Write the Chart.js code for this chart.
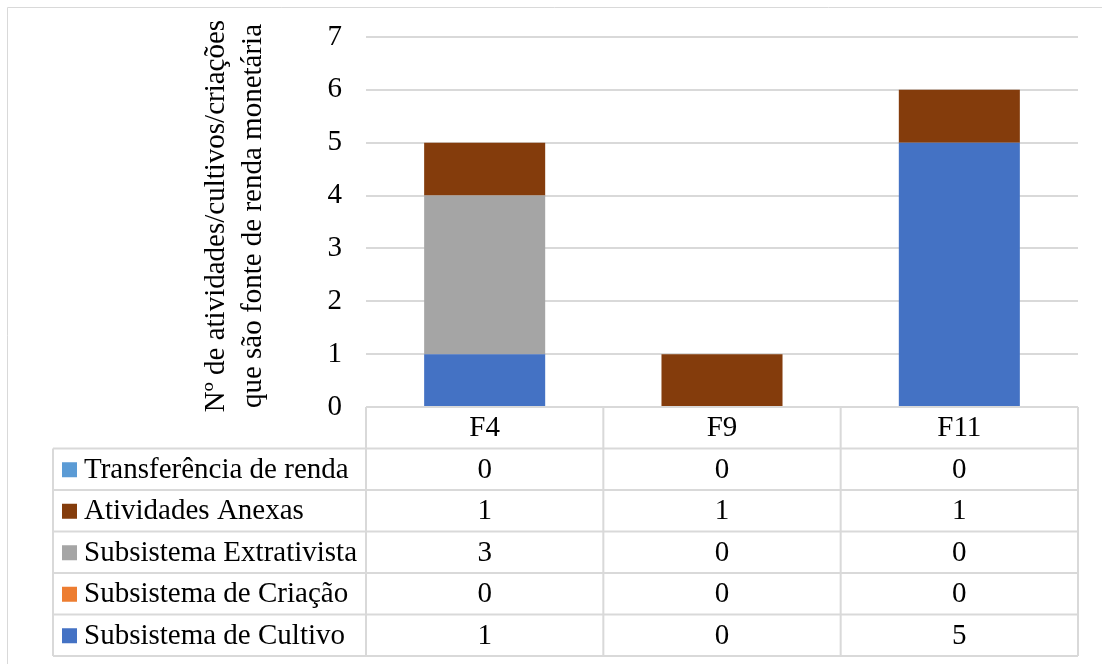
<!DOCTYPE html>
<html>
<head>
<meta charset="utf-8">
<script src="https://cdn.jsdelivr.net/npm/chart.js@4.4.1/dist/chart.umd.min.js"></script>
<style>
  html, body { margin: 0; padding: 0; background: #fff; }
  #wrap { width: 1102px; height: 664px; }
</style>
</head>
<body>
<div id="wrap"><canvas id="c" width="1102" height="664"></canvas></div>
<script>
// Categories (farms) and the counts of each income source
const categories = ['F4', 'F9', 'F11'];
const cultivo = [1, 0, 5];        // Subsistema de Cultivo
const criacao = [0, 0, 0];        // Subsistema de Criação
const extrativista = [3, 0, 0];   // Subsistema Extrativista
const anexas = [1, 1, 1];         // Atividades Anexas
const transferencia = [0, 0, 0];  // Transferência de renda
const yTicks = [0, 1, 2, 3, 4, 5, 6, 7];
const yTitle = ['Nº de atividades/cultivos/criações', 'que são fonte de renda monetária'];

const seriesNames = ['Subsistema de Cultivo', 'Subsistema de Criação', 'Subsistema Extrativista', 'Atividades Anexas', 'Transferência de renda'];
const seriesValues = [cultivo, criacao, extrativista, anexas, transferencia];
const seriesColors = ['#4472C4', '#ED7D31', '#A5A5A5', '#843C0C', '#5B9BD5'];

const FONT = '"Liberation Serif", "Times New Roman", serif';
const LINE = '#d9d9d9';

Chart.defaults.font.family = FONT;
Chart.defaults.font.size = 29;
Chart.defaults.color = '#000';

// Data table under the plot: header row of categories, then one row per series
const dataTable = {
  id: 'dataTable',
  beforeDraw(chart) {
    const ctx = chart.ctx;
    ctx.save();
    ctx.strokeStyle = LINE;
    ctx.lineWidth = 1;
    ctx.beginPath();
    ctx.moveTo(7.5, 664); ctx.lineTo(7.5, 7.5); ctx.lineTo(1102, 7.5);
    ctx.stroke();
    ctx.restore();
  },
  afterDraw(chart) {
    const ctx = chart.ctx;
    const x = chart.scales.x;
    const area = chart.chartArea;
    const top = area.bottom;
    const rowH = 41.5;
    const nRows = seriesNames.length;
    const tableLeft = 53;
    const catW = (area.right - area.left) / categories.length;
    const bottom = top + rowH * (nRows + 1);

    ctx.save();
    ctx.strokeStyle = LINE;
    ctx.lineWidth = 2;
    ctx.beginPath();
    // header top line (the category axis)
    ctx.moveTo(area.left, top); ctx.lineTo(area.right, top);
    // row separators
    for (let r = 1; r <= nRows + 1; r++) {
      const y = top + r * rowH;
      ctx.moveTo(tableLeft, y); ctx.lineTo(area.right, y);
    }
    // column boundaries
    for (let i = 0; i <= categories.length; i++) {
      const cx = i < categories.length ? x.getPixelForValue(i) - catW / 2 : x.getPixelForValue(i - 1) + catW / 2;
      ctx.moveTo(cx, top); ctx.lineTo(cx, bottom);
    }
    ctx.moveTo(tableLeft, top + rowH); ctx.lineTo(tableLeft, bottom);
    ctx.stroke();

    ctx.fillStyle = '#000';
    ctx.font = '29px ' + FONT;
    ctx.textAlign = 'center';
    ctx.textBaseline = 'middle';
    categories.forEach((c, i) => {
      ctx.fillText(c, x.getPixelForValue(i), top + rowH / 2 + 1);
    });
    // rows are listed top-down in reverse stacking order
    for (let r = 0; r < nRows; r++) {
      const s = nRows - 1 - r;
      const cy = top + rowH * (r + 1) + rowH / 2 + 1;
      ctx.fillStyle = seriesColors[s];
      ctx.fillRect(62, cy - 8, 15, 15);
      ctx.fillStyle = '#000';
      ctx.textAlign = 'left';
      ctx.fillText(seriesNames[s], 84, cy);
      ctx.textAlign = 'center';
      seriesValues[s].forEach((v, i) => {
        ctx.fillText(String(v), x.getPixelForValue(i), cy);
      });
    }

    // vertical axis title, two lines
    ctx.save();
    ctx.translate(216, 216);
    ctx.rotate(-Math.PI / 2);
    ctx.textAlign = 'center';
    ctx.textBaseline = 'middle';
    ctx.fillText(yTitle[0], 0, 0);
    ctx.fillText(yTitle[1], 0, 37);
    ctx.restore();

    ctx.restore();
  }
};

new Chart(document.getElementById('c'), {
  type: 'bar',
  data: {
    labels: categories,
    datasets: seriesNames.map((name, i) => ({
      label: name,
      data: seriesValues[i],
      backgroundColor: seriesColors[i],
      borderWidth: 0,
      barPercentage: 0.51,
      categoryPercentage: 1
    }))
  },
  options: {
    responsive: false,
    animation: false,
    layout: { padding: { left: 0, right: 24, top: 37, bottom: 257 } },
    plugins: { legend: { display: false }, tooltip: { enabled: false } },
    scales: {
      x: { stacked: true, display: false },
      y: {
        stacked: true,
        min: 0,
        max: 7,
        afterFit(scale) {
          scale.width = 366;
          scale.paddingTop = 0;
          scale.paddingBottom = 0;
        },
        afterBuildTicks(scale) { scale.ticks = yTicks.map(v => ({ value: v })); },
        border: { display: false },
        grid: { color: LINE, lineWidth: 2, drawTicks: false },
        ticks: { padding: 24, font: { size: 29 } }
      }
    }
  },
  plugins: [dataTable]
});
</script>
</body>
</html>
